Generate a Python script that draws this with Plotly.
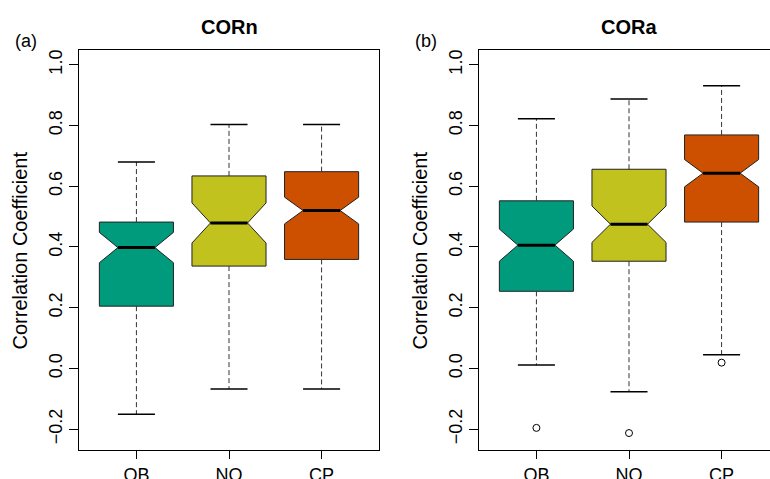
import plotly.graph_objects as go

# ---------------- data ----------------
categories = ["OB", "NO", "CP"]
positions = [1, 2, 3]
colors = ["#009B7D", "#C1C21E", "#CD5000"]

corn_q1 = [0.205, 0.337, 0.359]
corn_med = [0.398, 0.479, 0.520]
corn_q3 = [0.482, 0.634, 0.648]
corn_lo = [-0.151, -0.068, -0.068]
corn_hi = [0.680, 0.803, 0.803]
corn_notch = [0.050, 0.066, 0.044]
corn_out = [[], [], []]

cora_q1 = [0.254, 0.353, 0.482]
cora_med = [0.406, 0.475, 0.643]
cora_q3 = [0.552, 0.656, 0.769]
cora_lo = [0.011, -0.077, 0.045]
cora_hi = [0.822, 0.887, 0.931]
cora_notch = [0.053, 0.060, 0.045]
cora_out = [[-0.196], [-0.213], [0.019]]

y_ticks = [-0.2, 0.0, 0.2, 0.4, 0.6, 0.8, 1.0]
y_ticktext = ["\u22120.2", "0.0", "0.2", "0.4", "0.6", "0.8", "1.0"]

BOX_W = 0.8
HALF_CAP = 0.2
HALF_NOTCH = 0.2
FONT = "Liberation Sans, Arial, Helvetica, sans-serif"

fig = go.Figure()


def add_panel(xa, ya, q1, med, q3, lo, hi, notch, outs):
    for i, pos in enumerate(positions):
        fig.add_trace(go.Box(
            x=[pos], q1=[q1[i]], median=[med[i]], q3=[q3[i]],
            lowerfence=[q1[i]], upperfence=[q3[i]], notchspan=[notch[i]],
            notched=True, notchwidth=0.25, width=BOX_W, whiskerwidth=0,
            fillcolor=colors[i], line=dict(color="#222222", width=1),
            boxpoints=False, name=categories[i], showlegend=False,
            xaxis=xa, yaxis=ya, hoverinfo="skip"))
    # dashed whiskers
    wx, wy = [], []
    for i, pos in enumerate(positions):
        wx += [pos, pos, None, pos, pos, None]
        wy += [q3[i], hi[i], None, q1[i], lo[i], None]
    fig.add_trace(go.Scatter(x=wx, y=wy, mode="lines", xaxis=xa, yaxis=ya,
                             line=dict(color="#333333", width=1, dash="5px,3px"),
                             showlegend=False, hoverinfo="skip"))
    # caps
    cx, cy = [], []
    for i, pos in enumerate(positions):
        cx += [pos - HALF_CAP, pos + HALF_CAP, None, pos - HALF_CAP, pos + HALF_CAP, None]
        cy += [hi[i], hi[i], None, lo[i], lo[i], None]
    fig.add_trace(go.Scatter(x=cx, y=cy, mode="lines", xaxis=xa, yaxis=ya,
                             line=dict(color="black", width=1.5),
                             showlegend=False, hoverinfo="skip"))
    # thick medians
    mx, my = [], []
    for i, pos in enumerate(positions):
        mx += [pos - HALF_NOTCH, pos + HALF_NOTCH, None]
        my += [med[i], med[i], None]
    fig.add_trace(go.Scatter(x=mx, y=my, mode="lines", xaxis=xa, yaxis=ya,
                             line=dict(color="black", width=3),
                             showlegend=False, hoverinfo="skip"))
    # outliers
    ox, oy = [], []
    for i, pos in enumerate(positions):
        for v in outs[i]:
            ox.append(pos)
            oy.append(v)
    if ox:
        fig.add_trace(go.Scatter(x=ox, y=oy, mode="markers", xaxis=xa, yaxis=ya,
                                 marker=dict(symbol="circle-open", size=7,
                                             color="black", line=dict(width=1)),
                                 showlegend=False, hoverinfo="skip"))


add_panel("x", "y", corn_q1, corn_med, corn_q3, corn_lo, corn_hi, corn_notch, corn_out)
add_panel("x2", "y2", cora_q1, cora_med, cora_q3, cora_lo, cora_hi, cora_notch, cora_out)

W, H = 770, 479
L, R, T, B = 79, 0, 50, 29
pw = W - L - R
ph = H - T - B

yrange = [-0.2688, 1.0488]
common_x = dict(tickvals=positions, ticktext=categories, ticks="outside", ticklen=8,
                tickwidth=1, tickcolor="black", showline=True, linecolor="black",
                linewidth=1, mirror=True, showgrid=False, zeroline=False,
                tickfont=dict(size=18, color="black", family=FONT))
common_y = dict(tickvals=y_ticks, ticktext=y_ticktext, range=yrange, ticks="outside",
                ticklen=9, tickwidth=1, tickcolor="black", showline=True,
                linecolor="black", linewidth=1, showgrid=False, zeroline=False,
                tickangle=-90, tickfont=dict(size=18, color="black", family=FONT))

x1_dom = [0, 300 / pw]
x2_dom = [400 / pw, 1]
x2_right = 0.38 + (pw - 400) / (300 / 3.24)

fig.update_layout(
    width=W, height=H,
    margin=dict(l=L, r=R, t=T, b=B, autoexpand=False),
    paper_bgcolor="white", plot_bgcolor="white",
    font=dict(family=FONT, color="black"),
    xaxis=dict(domain=x1_dom, range=[0.38, 3.62], anchor="y", **common_x),
    yaxis=dict(domain=[0, 1], anchor="x", mirror=True, **common_y),
    xaxis2=dict(domain=x2_dom, range=[0.38, x2_right], anchor="y2", **common_x),
    yaxis2=dict(domain=[0, 1], anchor="x2", mirror=False, **common_y),
    boxmode="overlay",
)


def px_x(px):
    return (px - L) / pw


def px_y(py):
    return (H - B - py) / ph


annos = [
    dict(text="<b>CORn</b>", x=px_x(229.3), y=px_y(27), size=20, angle=0),
    dict(text="<b>CORa</b>", x=px_x(629.3), y=px_y(27), size=20, angle=0),
    dict(text="(a)", x=px_x(25.5), y=px_y(41), size=18, angle=0),
    dict(text="(b)", x=px_x(425.5), y=px_y(41), size=18, angle=0),
    dict(text="Correlation Coefficient", x=px_x(19), y=px_y(250.5), size=20, angle=-90),
    dict(text="Correlation Coefficient", x=px_x(419), y=px_y(250.5), size=20, angle=-90),
]
for a in annos:
    fig.add_annotation(text=a["text"], x=a["x"], y=a["y"], xref="paper", yref="paper",
                       xanchor="center", yanchor="middle", showarrow=False,
                       textangle=a["angle"],
                       font=dict(size=a["size"], color="black", family=FONT))

fig.write_html("out.html")
